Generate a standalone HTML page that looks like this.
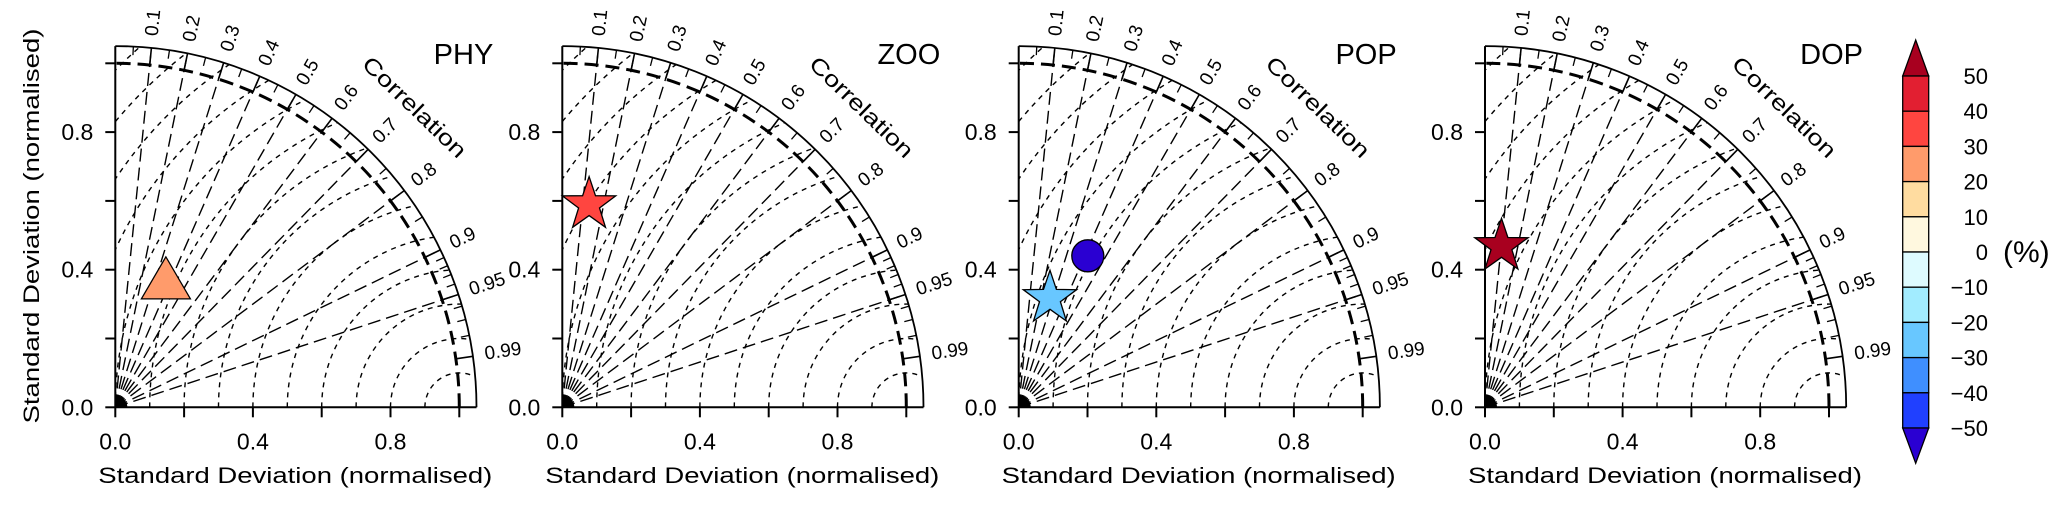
<!DOCTYPE html>
<html><head><meta charset="utf-8"><style>
html,body{margin:0;padding:0;background:#fff;}
svg{display:block;font-family:"Liberation Sans",sans-serif;}
</style></head><body>
<svg id="chart" width="2067" height="507" viewBox="0 0 2067 507" xmlns="http://www.w3.org/2000/svg"></svg>
<script>
const panelNames = ["PHY","ZOO","POP","DOP"];
const panelOriginsX = [115.3, 562.3, 1018.7, 1485];
// markers: panel index, std (normalised), correlation
const markerPanel = [0, 1, 2, 2, 3];
const markerStd = [0.404, 0.603, 0.484, 0.338, 0.479];
const markerCorr = [0.364, 0.129, 0.415, 0.269, 0.100];
const markerShape = ["triangle","star","circle","star","star"];
const markerBias = [25, 35, -55, -25, 55];
const majorCorr = [0.1,0.2,0.3,0.4,0.5,0.6,0.7,0.8,0.9,0.95,0.99];
const radialCorr = [0.1,0.2,0.3,0.4,0.5,0.6,0.7,0.8,0.9,0.95];
const minorCorr = [0.05,0.15,0.25,0.35,0.45,0.55,0.65,0.75,0.85,0.91,0.92,0.93,0.94,0.96,0.97,0.98];
const rmsRadii = [0.1,0.2,0.3,0.4,0.5,0.6,0.7,0.8,0.9,1.0,1.1,1.2,1.3,1.4];
const stdTicks = [0,0.2,0.4,0.6,0.8,1.0];
const stdLabels = ["0.0","","0.4","","0.8",""];
const cbLevels = [50,40,30,20,10,0,-10,-20,-30,-40,-50];
const cbColors = ["#E21F31","#FF4540","#FF9B6B","#FFDCA0","#FFF8DF","#DEFBFF","#A2ECFF","#68C7FF","#3F8FFF","#2040FF"];
const cbOverColor = "#A8001F", cbUnderColor = "#2A00D2";

const NS="http://www.w3.org/2000/svg";
const svg=document.getElementById('chart');
const S=344, OY=407.3, RMAX=1.05;
function el(tag,attrs,parent){const e=document.createElementNS(NS,tag);for(const k in attrs)e.setAttribute(k,attrs[k]);(parent||svg).appendChild(e);return e;}
function biasColor(b){if(b>50)return cbOverColor;if(b<-50)return cbUnderColor;let i=Math.min(9,Math.max(0,Math.floor((50-b)/10)));return cbColors[i];}

const defs=el('defs',{});
panelNames.forEach((name,p)=>{
  const ox=panelOriginsX[p];
  const X=(x)=>ox+x*S, Y=(y)=>OY-y*S;
  const pol=(r,c)=>{const a=Math.acos(c);return [X(r*Math.cos(a)),Y(r*Math.sin(a))];};
  const g=el('g',{});
  
  
  const cp=el('clipPath',{id:'clip'+p},defs);
  el('path',{d:`M${X(0)},${Y(0)} L${X(RMAX)},${Y(0)} A${RMAX*S},${RMAX*S} 0 0 0 ${X(0)},${Y(RMAX)} Z`},cp);
  const rg=el('g',{'clip-path':`url(#clip${p})`},g);
  rmsRadii.forEach(r=>{
    const a=el('path',{d:`M${X(1-r)},${Y(0)} A${r*S},${r*S} 0 0 1 ${X(1+r)},${Y(0)}`,fill:'none',stroke:'#000','stroke-width':1.4,'stroke-dasharray':'5 5'},rg);
    
    
  });
  radialCorr.forEach(c=>{
    const [x2,y2]=pol(RMAX,c);
    const l=el('line',{x1:X(0),y1:Y(0),x2,y2,stroke:'#000','stroke-width':1.4,'stroke-dasharray':'13 6'},g);
    
    
  });
  el('path',{d:`M${X(0)},${Y(0)} L${X(0.035)},${Y(0)} A${0.035*S},${0.035*S} 0 0 0 ${X(0)},${Y(0.035)} Z`,fill:'#000'},g);
  const ra=el('path',{d:`M${X(1)},${Y(0)} A${S},${S} 0 0 0 ${X(0)},${Y(1)}`,fill:'none',stroke:'#000','stroke-width':3,'stroke-dasharray':'14 7'},g);
  
  
  el('path',{d:`M${X(RMAX)},${Y(0)} A${RMAX*S},${RMAX*S} 0 0 0 ${X(0)},${Y(RMAX)}`,fill:'none',stroke:'#000','stroke-width':1.8},g);
  const xa=el('line',{x1:X(0),y1:Y(0),x2:X(RMAX),y2:Y(0),stroke:'#000','stroke-width':2},g);
  
  const ya=el('line',{x1:X(0),y1:Y(0),x2:X(0),y2:Y(RMAX),stroke:'#000','stroke-width':2},g);
  
  majorCorr.forEach(c=>{const [a1,b1]=pol(1.0,c),[a2,b2]=pol(RMAX,c);el('line',{x1:a1,y1:b1,x2:a2,y2:b2,stroke:'#000','stroke-width':1.6},g);
    const [lx,ly]=pol(1.085,c);const ang=Math.acos(c)*180/Math.PI;
    const t=el('text',{x:lx,y:ly,'font-size':19,transform:`rotate(${-ang} ${lx} ${ly})`,'dominant-baseline':'middle'},g);t.textContent=String(c);
    });
  minorCorr.forEach(c=>{const [a1,b1]=pol(1.025,c),[a2,b2]=pol(RMAX,c);el('line',{x1:a1,y1:b1,x2:a2,y2:b2,stroke:'#000','stroke-width':1.3},g);});
  stdTicks.forEach((v,i)=>{
    el('line',{x1:X(v),y1:Y(0),x2:X(v),y2:Y(0)+10,stroke:'#000','stroke-width':2},g);
    el('line',{x1:X(0),y1:Y(v),x2:X(0)-10,y2:Y(v),stroke:'#000','stroke-width':2},g);
    if(stdLabels[i]){
      const tx=el('text',{x:X(v),y:Y(0)+42,'font-size':23,'text-anchor':'middle'},g);tx.textContent=stdLabels[i];
      
      const ty=el('text',{x:X(0)-22,y:Y(v)+8,'font-size':23,'text-anchor':'end'},g);ty.textContent=stdLabels[i];
      
    }
  });
  const xt=el('text',{x:X(0)-17,y:483,'font-size':22,textLength:394,lengthAdjust:'spacingAndGlyphs'},g);xt.textContent='Standard Deviation (normalised)';
  
  if(p===0){const yt=el('text',{x:0,y:0,'font-size':22,'text-anchor':'middle',textLength:395,lengthAdjust:'spacingAndGlyphs',transform:`translate(39,226) rotate(-90)`},g);yt.textContent='Standard Deviation (normalised)';
    }
  const tt=el('text',{x:X(0)+378,y:64,'font-size':29,'text-anchor':'end'},g);tt.textContent=name;
  
  const ct=el('text',{x:X(0)+298,y:Y(0)-299,'font-size':22,'text-anchor':'middle','dominant-baseline':'middle',textLength:135,lengthAdjust:'spacingAndGlyphs',transform:`rotate(44 ${X(0)+298} ${Y(0)-299})`},g);ct.textContent='Correlation';
  
  markerPanel.forEach((mp,i)=>{
    if(mp!==p)return;
    const [cx,cy]=pol(markerStd[i],markerCorr[i]);
    const col=biasColor(markerBias[i]);let m;
    if(markerShape[i]==='circle'){m=el('circle',{cx,cy,r:16,fill:col,stroke:'#000','stroke-width':1.3},g);}
    else if(markerShape[i]==='triangle'){m=el('polygon',{points:`${cx},${cy-21} ${cx-24.5},${cy+21} ${cx+24.5},${cy+21}`,fill:col,stroke:'#000','stroke-width':1.3},g);}
    else{let pts=[];for(let k=0;k<10;k++){const r=k%2?11:28;const a=-Math.PI/2+k*Math.PI/5;pts.push((cx+r*Math.cos(a)).toFixed(1)+','+(cy+3+r*Math.sin(a)).toFixed(1));}
      m=el('polygon',{points:pts.join(' '),fill:col,stroke:'#000','stroke-width':1.3},g);}
    
    
  });
});
const cb=el('g',{});


const cbx=1902.7,cbw=26,cbTop=76,cbH=35.2;
const up=el('polygon',{points:`${cbx},${cbTop} ${cbx+cbw/2},40 ${cbx+cbw},${cbTop}`,fill:cbOverColor,stroke:'#000','stroke-width':1.3},cb);

cbColors.forEach((c,i)=>{const r=el('rect',{x:cbx,y:cbTop+i*cbH,width:cbw,height:cbH,fill:c,stroke:'#000','stroke-width':1.3},cb);
  });
const yb=cbTop+cbColors.length*cbH;
const dn=el('polygon',{points:`${cbx},${yb} ${cbx+cbw/2},463.3 ${cbx+cbw},${yb}`,fill:cbUnderColor,stroke:'#000','stroke-width':1.3},cb);

cbLevels.forEach((v,i)=>{const t=el('text',{x:1988,y:cbTop+i*cbH+8,'font-size':22,'text-anchor':'end'},cb);t.textContent=v<0?'\u2212'+(-v):String(v);
  });
const pc=el('text',{x:2003,y:262,'font-size':30},cb);pc.textContent='(%)';

</script>
</body></html>
